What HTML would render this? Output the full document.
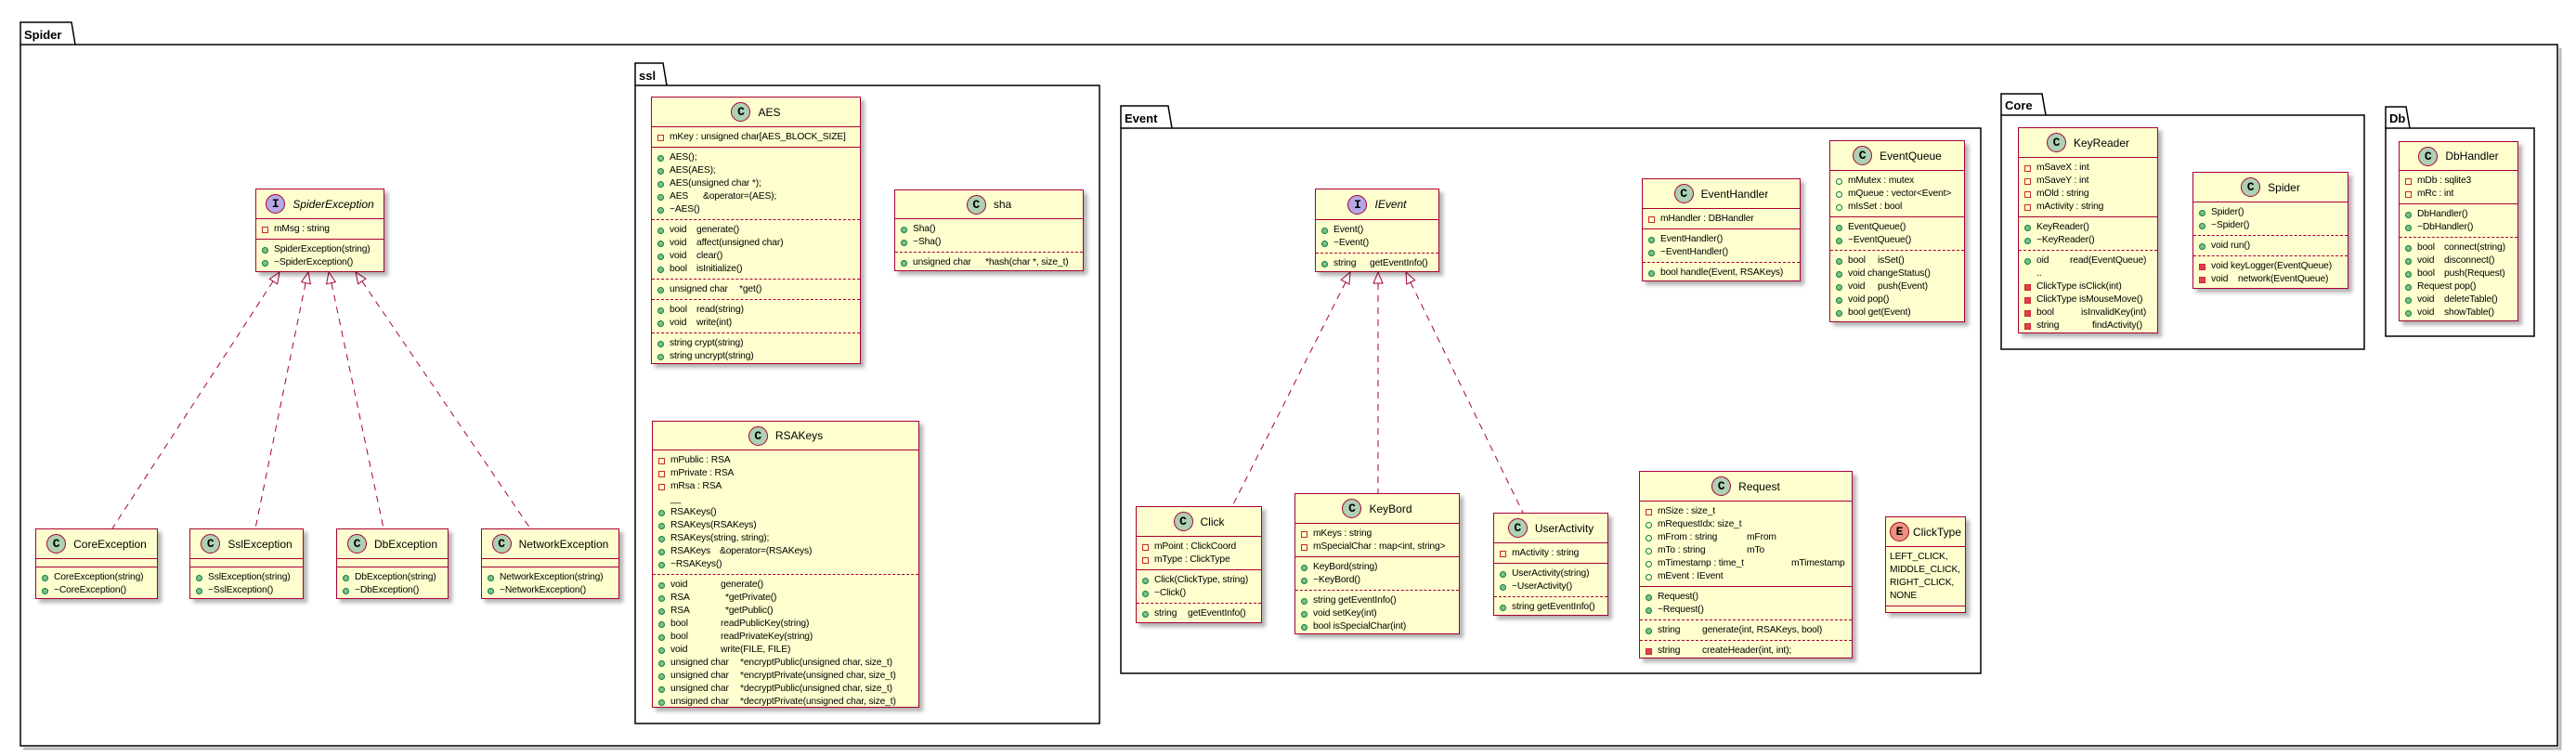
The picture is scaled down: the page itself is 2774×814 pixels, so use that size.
<!DOCTYPE html>
<html><head><meta charset="utf-8">
<style>
html,body{margin:0;padding:0;background:#fff;}
body{width:2774px;height:814px;position:relative;overflow:hidden;font-family:"Liberation Sans",sans-serif;}
svg.bg{position:absolute;left:0;top:0;}
.c{position:absolute;background:#FEFECE;border:1.5px solid #A80036;box-sizing:border-box;box-shadow:4px 4px 4px rgba(0,0,0,.3);font-size:10.3px;letter-spacing:-0.15px;color:#000;overflow:hidden;}
.h{display:flex;align-items:center;justify-content:center;border-bottom:1.5px solid #A80036;box-sizing:border-box;font-size:12px;letter-spacing:0;}
.ic{width:21px;height:21px;border-radius:50%;border:1px solid #A80036;background:#ADD1B2;font:bold 13px "Liberation Mono",monospace;display:flex;align-items:center;justify-content:center;margin-right:8px;box-sizing:border-box;flex:none;}
.ic.i{background:#B4A7E5;}
.ic.e{background:#EB937F;}
.it{font-style:italic;}
.s{padding:4px 0 3px 6px;}
.s+.s{border-top:1.5px solid #A80036;}
.s.d{border-top:1px dashed #A80036;}
.r{height:14px;line-height:14px;white-space:pre;display:flex;align-items:center;}
.r b{font-weight:normal;display:inline-block;flex:none;}
.v{width:7px;height:7px;box-sizing:border-box;margin-right:6px;flex:none;display:inline-block;}
.pf{border:1px solid #C82930;}
.pm{background:#E0404E;border:1px solid #C82930;}
.uf{border:1px solid #038048;border-radius:50%;}
.um{background:#84BE84;border:1px solid #038048;border-radius:50%;}
.n{width:13px;display:inline-block;flex:none;}
.e8{height:8px;padding:0;}
</style></head><body>
<svg class="bg" width="2774" height="814" viewBox="0 0 2774 814">
<g fill="none" stroke="#000">
<g stroke="#bbb" stroke-width="3">
<polyline points="2757,52 2757,806 25,806"/>
<polyline points="1187,96 1187,782 688,782"/>
<polyline points="2136,142 2136,728 1211,728"/>
<polyline points="2549,128 2549,379 2159,379"/>
<polyline points="2732,142 2732,365 2573,365"/>
</g>
<g stroke-width="1.5" fill="#fff">
<path d="M22,48 L22,24 L77,24 L81,48"/>
<rect x="22" y="48" width="2732" height="755"/>
<path d="M684,92 L684,68 L714,68 L718,92"/>
<rect x="684" y="92" width="500" height="687"/>
<path d="M1207,138 L1207,114 L1258,114 L1262,138"/>
<rect x="1207" y="138" width="926" height="587"/>
<path d="M2155,124 L2155,101 L2199,101 L2203,124"/>
<rect x="2155" y="124" width="391" height="252"/>
<path d="M2569,138 L2569,115 L2591,115 L2595,138"/>
<rect x="2569" y="138" width="160" height="224"/>
</g>
</g>
<g font-family="Liberation Sans, sans-serif" font-weight="bold" font-size="13" fill="#000">
<text x="26" y="42">Spider</text>
<text x="688" y="86">ssl</text>
<text x="1211" y="132">Event</text>
<text x="2159" y="118">Core</text>
<text x="2573" y="132">Db</text>
</g>
<g stroke="#A80036" fill="none" stroke-width="1" stroke-dasharray="7,6">
<path d="M294,303 L121,569"/>
<path d="M329,305 L275,569"/>
<path d="M357,305 L413,569"/>
<path d="M390,303 L571,569"/>
<path d="M1449,304 L1327,545"/>
<path d="M1484,305 L1484,531"/>
<path d="M1519,304 L1640,552"/>
</g>
<g stroke="#A80036" fill="#fff" stroke-width="1">
<path d="M0,0 L-5,12 L5,12 Z" transform="translate(301,293) rotate(33)"/>
<path d="M0,0 L-5,12 L5,12 Z" transform="translate(332,293) rotate(12)"/>
<path d="M0,0 L-5,12 L5,12 Z" transform="translate(354,293) rotate(-12)"/>
<path d="M0,0 L-5,12 L5,12 Z" transform="translate(383,293) rotate(-34)"/>
<path d="M0,0 L-5,12 L5,12 Z" transform="translate(1454,293) rotate(27)"/>
<path d="M0,0 L-5,12 L5,12 Z" transform="translate(1484,293)"/>
<path d="M0,0 L-5,12 L5,12 Z" transform="translate(1514,293) rotate(-26)"/>
</g>
</svg>

<div class="c" style="left:275px;top:203px;width:139px;height:90px;">
<div class="h" style="height:32px;"><span class="ic i">I</span><span class="it">SpiderException</span></div>
<div class="s"><div class="r"><i class="v pf"></i>mMsg : string</div></div>
<div class="s"><div class="r"><i class="v um"></i>SpiderException(string)</div><div class="r"><i class="v um"></i>~SpiderException()</div></div>
</div>

<div class="c" style="left:38px;top:569px;width:132px;height:76px;">
<div class="h" style="height:32px;"><span class="ic">C</span>CoreException</div>
<div class="s e8"></div>
<div class="s"><div class="r"><i class="v um"></i>CoreException(string)</div><div class="r"><i class="v um"></i>~CoreException()</div></div>
</div>
<div class="c" style="left:204px;top:569px;width:123px;height:76px;">
<div class="h" style="height:32px;"><span class="ic">C</span>SslException</div>
<div class="s e8"></div>
<div class="s"><div class="r"><i class="v um"></i>SslException(string)</div><div class="r"><i class="v um"></i>~SslException()</div></div>
</div>
<div class="c" style="left:362px;top:569px;width:121px;height:76px;">
<div class="h" style="height:32px;"><span class="ic">C</span>DbException</div>
<div class="s e8"></div>
<div class="s"><div class="r"><i class="v um"></i>DbException(string)</div><div class="r"><i class="v um"></i>~DbException()</div></div>
</div>
<div class="c" style="left:518px;top:569px;width:149px;height:76px;">
<div class="h" style="height:32px;"><span class="ic">C</span>NetworkException</div>
<div class="s e8"></div>
<div class="s"><div class="r"><i class="v um"></i>NetworkException(string)</div><div class="r"><i class="v um"></i>~NetworkException()</div></div>
</div>

<div class="c" style="left:701px;top:104px;width:226px;height:288px;">
<div class="h" style="height:32px;"><span class="ic">C</span>AES</div>
<div class="s"><div class="r"><i class="v pf"></i>mKey : unsigned char[AES_BLOCK_SIZE]</div></div>
<div class="s"><div class="r"><i class="v um"></i>AES();</div><div class="r"><i class="v um"></i>AES(AES);</div><div class="r"><i class="v um"></i>AES(unsigned char *);</div><div class="r"><i class="v um"></i><b style="width:36px">AES</b>&amp;operator=(AES);</div><div class="r"><i class="v um"></i>~AES()</div></div>
<div class="s d"><div class="r"><i class="v um"></i><b style="width:29px">void</b>generate()</div><div class="r"><i class="v um"></i><b style="width:29px">void</b>affect(unsigned char)</div><div class="r"><i class="v um"></i><b style="width:29px">void</b>clear()</div><div class="r"><i class="v um"></i><b style="width:29px">bool</b>isInitialize()</div></div>
<div class="s d"><div class="r"><i class="v um"></i><b style="width:75px">unsigned char</b>*get()</div></div>
<div class="s d"><div class="r"><i class="v um"></i><b style="width:29px">bool</b>read(string)</div><div class="r"><i class="v um"></i><b style="width:29px">void</b>write(int)</div></div>
<div class="s d"><div class="r"><i class="v um"></i>string crypt(string)</div><div class="r"><i class="v um"></i>string uncrypt(string)</div></div>
</div>

<div class="c" style="left:963px;top:204px;width:204px;height:88px;">
<div class="h" style="height:31px;"><span class="ic">C</span>sha</div>
<div class="s"><div class="r"><i class="v um"></i>Sha()</div><div class="r"><i class="v um"></i>~Sha()</div></div>
<div class="s d"><div class="r"><i class="v um"></i><b style="width:78px">unsigned char</b>*hash(char *, size_t)</div></div>
</div>

<div class="c" style="left:702px;top:453px;width:288px;height:309px;">
<div class="h" style="height:31px;"><span class="ic">C</span>RSAKeys</div>
<div class="s"><div class="r"><i class="v pf"></i>mPublic : RSA</div><div class="r"><i class="v pf"></i>mPrivate : RSA</div><div class="r"><i class="v pf"></i>mRsa : RSA</div><div class="r"><span class="n"></span>__</div><div class="r"><i class="v um"></i>RSAKeys()</div><div class="r"><i class="v um"></i>RSAKeys(RSAKeys)</div><div class="r"><i class="v um"></i>RSAKeys(string, string);</div><div class="r"><i class="v um"></i><b style="width:53px">RSAKeys</b>&amp;operator=(RSAKeys)</div><div class="r"><i class="v um"></i>~RSAKeys()</div></div>
<div class="s d"><div class="r"><i class="v um"></i><b style="width:54px">void</b>generate()</div><div class="r"><i class="v um"></i><b style="width:59px">RSA</b>*getPrivate()</div><div class="r"><i class="v um"></i><b style="width:59px">RSA</b>*getPublic()</div><div class="r"><i class="v um"></i><b style="width:54px">bool</b>readPublicKey(string)</div><div class="r"><i class="v um"></i><b style="width:54px">bool</b>readPrivateKey(string)</div><div class="r"><i class="v um"></i><b style="width:54px">void</b>write(FILE, FILE)</div><div class="r"><i class="v um"></i><b style="width:75px">unsigned char</b>*encryptPublic(unsigned char, size_t)</div><div class="r"><i class="v um"></i><b style="width:75px">unsigned char</b>*encryptPrivate(unsigned char, size_t)</div><div class="r"><i class="v um"></i><b style="width:75px">unsigned char</b>*decryptPublic(unsigned char, size_t)</div><div class="r"><i class="v um"></i><b style="width:75px">unsigned char</b>*decryptPrivate(unsigned char, size_t)</div></div>
</div>

<div class="c" style="left:1416px;top:203px;width:134px;height:90px;">
<div class="h" style="height:33px;"><span class="ic i">I</span><span class="it">IEvent</span></div>
<div class="s"><div class="r"><i class="v um"></i>Event()</div><div class="r"><i class="v um"></i>~Event()</div></div>
<div class="s d"><div class="r"><i class="v um"></i><b style="width:39px">string</b>getEventInfo()</div></div>
</div>

<div class="c" style="left:1768px;top:192px;width:171px;height:111px;">
<div class="h" style="height:32px;"><span class="ic">C</span>EventHandler</div>
<div class="s"><div class="r"><i class="v pf"></i>mHandler : DBHandler</div></div>
<div class="s"><div class="r"><i class="v um"></i>EventHandler()</div><div class="r"><i class="v um"></i>~EventHandler()</div></div>
<div class="s d"><div class="r"><i class="v um"></i>bool handle(Event, RSAKeys)</div></div>
</div>

<div class="c" style="left:1970px;top:151px;width:146px;height:196px;">
<div class="h" style="height:32px;"><span class="ic">C</span>EventQueue</div>
<div class="s"><div class="r"><i class="v uf"></i>mMutex : mutex</div><div class="r"><i class="v uf"></i>mQueue : vector&lt;Event&gt;</div><div class="r"><i class="v uf"></i>mIsSet : bool</div></div>
<div class="s"><div class="r"><i class="v um"></i>EventQueue()</div><div class="r"><i class="v um"></i>~EventQueue()</div></div>
<div class="s d"><div class="r"><i class="v um"></i><b style="width:32px">bool</b>isSet()</div><div class="r"><i class="v um"></i>void changeStatus()</div><div class="r"><i class="v um"></i><b style="width:32px">void</b>push(Event)</div><div class="r"><i class="v um"></i>void pop()</div><div class="r"><i class="v um"></i>bool get(Event)</div></div>
</div>

<div class="c" style="left:1223px;top:545px;width:136px;height:126px;">
<div class="h" style="height:32px;"><span class="ic">C</span>Click</div>
<div class="s"><div class="r"><i class="v pf"></i>mPoint : ClickCoord</div><div class="r"><i class="v pf"></i>mType : ClickType</div></div>
<div class="s"><div class="r"><i class="v um"></i>Click(ClickType, string)</div><div class="r"><i class="v um"></i>~Click()</div></div>
<div class="s d"><div class="r"><i class="v um"></i><b style="width:36px">string</b>getEventInfo()</div></div>
</div>

<div class="c" style="left:1394px;top:531px;width:178px;height:152px;">
<div class="h" style="height:32px;"><span class="ic">C</span>KeyBord</div>
<div class="s"><div class="r"><i class="v pf"></i>mKeys : string</div><div class="r"><i class="v pf"></i>mSpecialChar : map&lt;int, string&gt;</div></div>
<div class="s"><div class="r"><i class="v um"></i>KeyBord(string)</div><div class="r"><i class="v um"></i>~KeyBord()</div></div>
<div class="s d"><div class="r"><i class="v um"></i>string getEventInfo()</div><div class="r"><i class="v um"></i>void setKey(int)</div><div class="r"><i class="v um"></i>bool isSpecialChar(int)</div></div>
</div>

<div class="c" style="left:1608px;top:552px;width:124px;height:111px;">
<div class="h" style="height:32px;"><span class="ic">C</span>UserActivity</div>
<div class="s"><div class="r"><i class="v pf"></i>mActivity : string</div></div>
<div class="s"><div class="r"><i class="v um"></i>UserActivity(string)</div><div class="r"><i class="v um"></i>~UserActivity()</div></div>
<div class="s d"><div class="r"><i class="v um"></i>string getEventInfo()</div></div>
</div>

<div class="c" style="left:1765px;top:507px;width:230px;height:202px;">
<div class="h" style="height:32px;"><span class="ic">C</span>Request</div>
<div class="s"><div class="r"><i class="v pf"></i>mSize : size_t</div><div class="r"><i class="v uf"></i>mRequestIdx: size_t</div><div class="r"><i class="v uf"></i><b style="width:96px">mFrom : string</b>mFrom</div><div class="r"><i class="v uf"></i><b style="width:96px">mTo : string</b>mTo</div><div class="r"><i class="v uf"></i><b style="width:144px">mTimestamp : time_t</b>mTimestamp</div><div class="r"><i class="v uf"></i>mEvent : IEvent</div></div>
<div class="s"><div class="r"><i class="v um"></i>Request()</div><div class="r"><i class="v um"></i>~Request()</div></div>
<div class="s d"><div class="r"><i class="v um"></i><b style="width:48px">string</b>generate(int, RSAKeys, bool)</div></div>
<div class="s d"><div class="r"><i class="v pm"></i><b style="width:48px">string</b>createHeader(int, int);</div></div>
</div>

<div class="c" style="left:2030px;top:556px;width:87px;height:104px;">
<div class="h" style="height:32px;"><span class="ic e" style="margin-right:4px">E</span>ClickType</div>
<div class="s" style="padding-left:4px"><div class="r">LEFT_CLICK,</div><div class="r">MIDDLE_CLICK,</div><div class="r">RIGHT_CLICK,</div><div class="r">NONE</div></div>
<div class="s e8"></div>
</div>

<div class="c" style="left:2173px;top:137px;width:151px;height:222px;">
<div class="h" style="height:32px;"><span class="ic">C</span>KeyReader</div>
<div class="s"><div class="r"><i class="v pf"></i>mSaveX : int</div><div class="r"><i class="v pf"></i>mSaveY : int</div><div class="r"><i class="v pf"></i>mOld : string</div><div class="r"><i class="v pf"></i>mActivity : string</div></div>
<div class="s"><div class="r"><i class="v um"></i>KeyReader()</div><div class="r"><i class="v um"></i>~KeyReader()</div></div>
<div class="s d"><div class="r"><i class="v um"></i><b style="width:36px">oid</b>read(EventQueue)</div><div class="r"><span class="n"></span>..</div><div class="r"><i class="v pm"></i>ClickType isClick(int)</div><div class="r"><i class="v pm"></i>ClickType isMouseMove()</div><div class="r"><i class="v pm"></i><b style="width:48px">bool</b>isInvalidKey(int)</div><div class="r"><i class="v pm"></i><b style="width:60px">string</b>findActivity()</div></div>
</div>

<div class="c" style="left:2361px;top:185px;width:168px;height:126px;">
<div class="h" style="height:32px;"><span class="ic">C</span>Spider</div>
<div class="s"><div class="r"><i class="v um"></i>Spider()</div><div class="r"><i class="v um"></i>~Spider()</div></div>
<div class="s d"><div class="r"><i class="v um"></i>void run()</div></div>
<div class="s d"><div class="r"><i class="v pm"></i>void keyLogger(EventQueue)</div><div class="r"><i class="v pm"></i><b style="width:29px">void</b>network(EventQueue)</div></div>
</div>

<div class="c" style="left:2583px;top:152px;width:129px;height:194px;">
<div class="h" style="height:31px;"><span class="ic">C</span>DbHandler</div>
<div class="s"><div class="r"><i class="v pf"></i>mDb : sqlite3</div><div class="r"><i class="v pf"></i>mRc : int</div></div>
<div class="s"><div class="r"><i class="v um"></i>DbHandler()</div><div class="r"><i class="v um"></i>~DbHandler()</div></div>
<div class="s d"><div class="r"><i class="v um"></i><b style="width:29px">bool</b>connect(string)</div><div class="r"><i class="v um"></i><b style="width:29px">void</b>disconnect()</div><div class="r"><i class="v um"></i><b style="width:29px">bool</b>push(Request)</div><div class="r"><i class="v um"></i>Request pop()</div><div class="r"><i class="v um"></i><b style="width:29px">void</b>deleteTable()</div><div class="r"><i class="v um"></i><b style="width:29px">void</b>showTable()</div></div>
</div>
</body></html>
